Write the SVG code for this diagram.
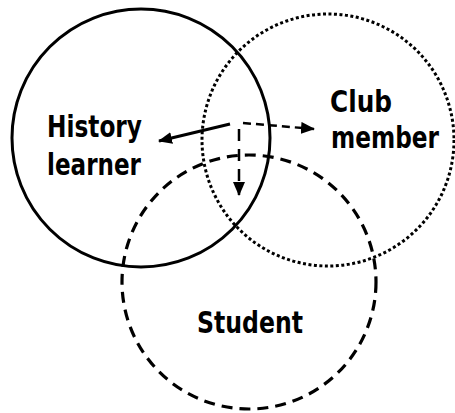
<svg xmlns="http://www.w3.org/2000/svg" width="455" height="413" viewBox="0 0 455 413">
<style>
.lbl{font-family:"DejaVu Sans","Verdana",sans-serif;font-size:31px;font-weight:bold;fill:#000;}
.solid{fill:none;stroke:#000;stroke-width:3;}
.dot{fill:none;stroke:#000;stroke-width:3;stroke-dasharray:3 2.5;}
.dash{fill:none;stroke:#000;stroke-width:3.2;stroke-dasharray:11 7;}
</style>
<defs>
<marker id="ah" viewBox="0 0 14 12" refX="13" refY="6" markerWidth="14" markerHeight="12" markerUnits="userSpaceOnUse" orient="auto">
<path d="M0,0 L14,6 L0,12 z" fill="#000"/>
</marker>
</defs>
<rect width="455" height="413" fill="#fff"/>
<g id="history">
<circle class="solid" cx="141" cy="138" r="129"/>
<text class="lbl" x="47" y="137" textLength="95" lengthAdjust="spacingAndGlyphs">History</text>
<text class="lbl" x="47" y="175" textLength="94" lengthAdjust="spacingAndGlyphs">learner</text>
</g>
<g id="club">
<circle class="dot" cx="328" cy="140" r="126"/>
<text class="lbl" x="330" y="112" textLength="62" lengthAdjust="spacingAndGlyphs">Club</text>
<text class="lbl" transform="translate(331,148) scale(0.75,1)" x="0" y="0">member</text>
</g>
<g id="student">
<circle class="dash" cx="249" cy="282" r="127"/>
<text class="lbl" x="197" y="333" textLength="106" lengthAdjust="spacingAndGlyphs">Student</text>
</g>
<g id="connectors">
<line class="solid" x1="230" y1="124" x2="159" y2="141" stroke-width="2.5" marker-end="url(#ah)"/>
<line x1="243" y1="123" x2="314" y2="129" fill="none" stroke="#000" stroke-width="2.5" stroke-dasharray="8 5" marker-end="url(#ah)"/>
<line x1="239" y1="129" x2="239" y2="195" fill="none" stroke="#000" stroke-width="2.5" stroke-dasharray="12 8" marker-end="url(#ah)"/>
</g>
</svg>
